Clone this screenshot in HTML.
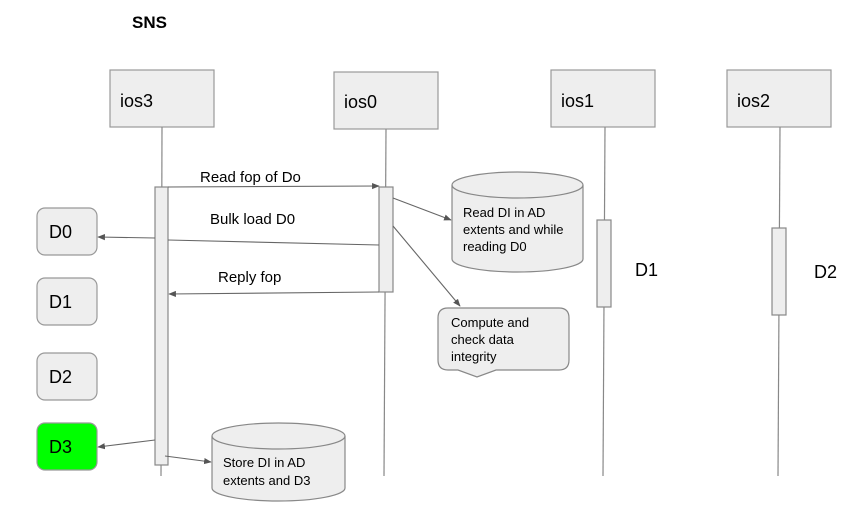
<!DOCTYPE html>
<html><head><meta charset="utf-8"><style>
html,body{margin:0;padding:0;background:#fff;}
svg{display:block;font-family:"Liberation Sans",Arial,sans-serif;}
</style></head><body>
<svg width="847" height="514" viewBox="0 0 847 514" xmlns="http://www.w3.org/2000/svg">
<defs>
<marker id="a" viewBox="0 0 10 10" refX="9" refY="5" markerWidth="7" markerHeight="7" orient="auto"><path d="M0,1 L10,5 L0,9 z" fill="#555"/></marker>
</defs>
<text x="132" y="28" font-size="17" font-weight="bold" fill="#000">SNS</text>
<g fill="#eeeeee" stroke="#999" stroke-width="1.2">
<rect x="110" y="70" width="104" height="57"/>
<rect x="334" y="72" width="104" height="57"/>
<rect x="551" y="70" width="104" height="57"/>
<rect x="727" y="70" width="104" height="57"/>
</g>
<g font-size="18" fill="#000">
<text x="120" y="107">ios3</text>
<text x="344" y="108">ios0</text>
<text x="561" y="107">ios1</text>
<text x="737" y="107">ios2</text>
</g>
<g stroke="#888" stroke-width="1.2">
<line x1="162" y1="127" x2="161" y2="476"/>
<line x1="386" y1="129" x2="384" y2="476"/>
<line x1="605" y1="127" x2="603" y2="476"/>
<line x1="780" y1="127" x2="778" y2="476"/>
</g>
<g fill="#eeeeee" stroke="#888" stroke-width="1.2">
<rect x="155" y="187" width="13" height="278"/>
<rect x="379" y="187" width="14" height="105"/>
<rect x="597" y="220" width="14" height="87"/>
<rect x="772" y="228" width="14" height="87"/>
</g>
<text x="635" y="276" font-size="18">D1</text>
<text x="814" y="278" font-size="18">D2</text>
<g stroke="#999" stroke-width="1.2">
<rect x="37" y="208" width="60" height="47" rx="8" fill="#eeeeee"/>
<rect x="37" y="278" width="60" height="47" rx="8" fill="#eeeeee"/>
<rect x="37" y="353" width="60" height="47" rx="8" fill="#eeeeee"/>
<rect x="37" y="423" width="60" height="47" rx="8" fill="#00ff00"/>
</g>
<g font-size="18">
<text x="49" y="238">D0</text>
<text x="49" y="308">D1</text>
<text x="49" y="383">D2</text>
<text x="49" y="453">D3</text>
</g>
<g stroke="#666" stroke-width="1.1" fill="none">
<line x1="168" y1="187" x2="379" y2="186" marker-end="url(#a)"/>
<polyline points="379,245 168,240"/>
<line x1="155" y1="238" x2="98" y2="237" marker-end="url(#a)"/>
<line x1="379" y1="292" x2="169" y2="294" marker-end="url(#a)"/>
<line x1="393" y1="198" x2="451" y2="220" marker-end="url(#a)"/>
<line x1="393" y1="226" x2="460" y2="306" marker-end="url(#a)"/>
<line x1="155" y1="440" x2="98" y2="447" marker-end="url(#a)"/>
<line x1="165" y1="456" x2="211" y2="462" marker-end="url(#a)"/>
</g>
<g font-size="15">
<text x="200" y="182">Read fop of Do</text>
<text x="210" y="224">Bulk load D0</text>
<text x="218" y="282">Reply fop</text>
</g>
<g fill="#eeeeee" stroke="#888" stroke-width="1.2">
<path d="M452,185 A65.5,13 0 0 1 583,185 L583,259 A65.5,13 0 0 1 452,259 Z"/>
<path d="M452,185 A65.5,13 0 0 0 583,185" fill="none"/>
<path d="M212,436 A66.5,13 0 0 1 345,436 L345,488 A66.5,13 0 0 1 212,488 Z"/>
<path d="M212,436 A66.5,13 0 0 0 345,436" fill="none"/>
<path d="M448,308 L559,308 Q569,308 569,318 L569,360 Q569,370 559,370 L496,370 L477,377 L458,370 L448,370 Q438,370 438,360 L438,318 Q438,308 448,308 Z"/>
</g>
<g font-size="13">
<text x="463" y="217">Read DI in AD</text>
<text x="463" y="234">extents and while</text>
<text x="463" y="251">reading D0</text>
<text x="451" y="327">Compute and</text>
<text x="451" y="344">check data</text>
<text x="451" y="361">integrity</text>
<text x="223" y="467">Store DI in AD</text>
<text x="223" y="485">extents and D3</text>
</g>
</svg>
</body></html>
